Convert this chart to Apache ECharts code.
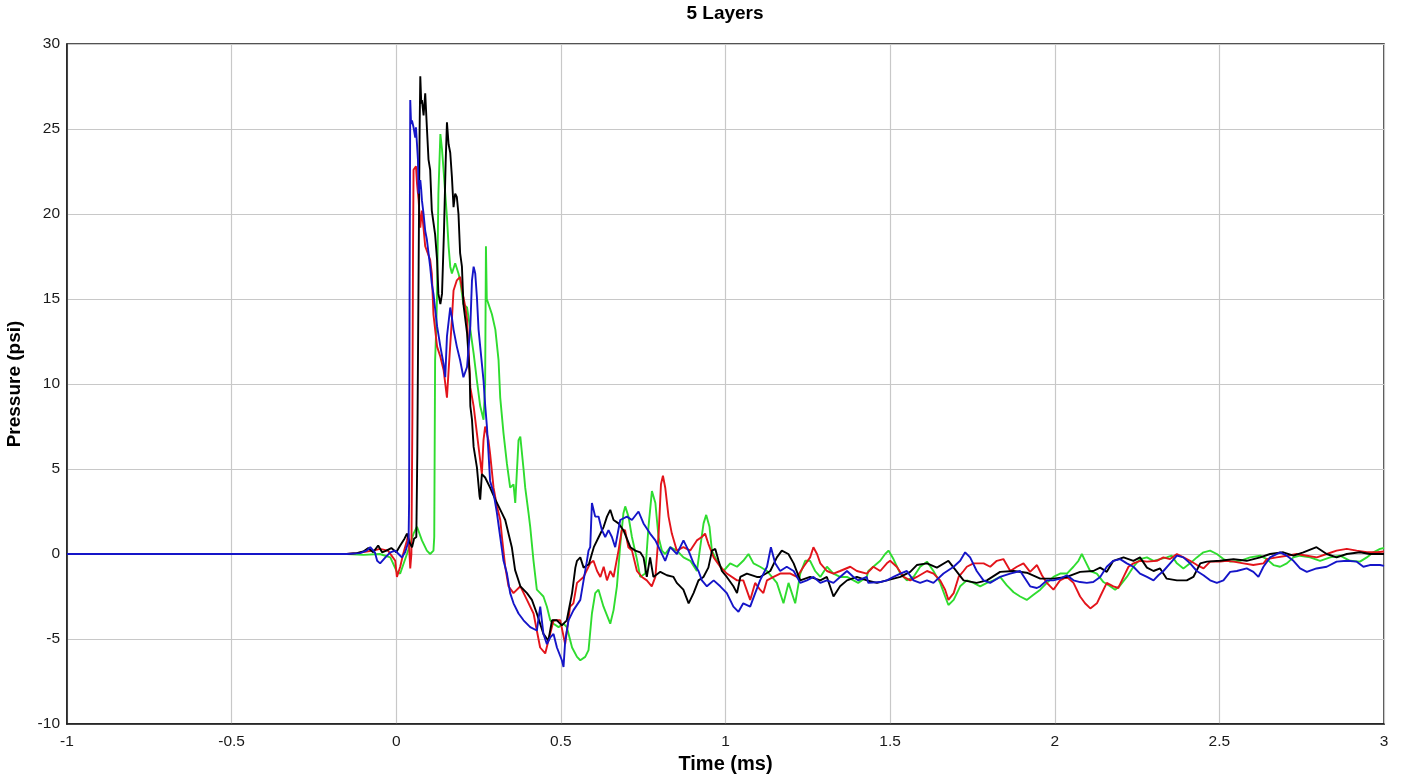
<!DOCTYPE html>
<html>
<head>
<meta charset="utf-8">
<title>5 Layers</title>
<script src="https://cdn.jsdelivr.net/npm/echarts@6/dist/echarts.min.js"></script>
<style>
  html, body { margin: 0; padding: 0; background: #fff; }
  #chart { width: 1402px; height: 783px; }
</style>
</head>
<body>
<div id="chart"></div>
<script>
// pressure traces: [time (ms), pressure (psi)]
var greenPts = [[-1,0],[-0.5,0],[-0.15,0],[-0.1,-0.05],[-0.05,0],[-0.018,-0.2],[0.002,-1.05],[0.012,-1.15],[0.0325,0],[0.0525,1.2],[0.063,1.6],[0.078,0.8],[0.093,0.2],[0.103,0],[0.113,0.2],[0.1154,1],[0.118,11.4],[0.121,13],[0.124,15.3],[0.128,21.2],[0.134,24.7],[0.139,23.8],[0.1436,22.6],[0.1488,21.2],[0.154,19.8],[0.159,18.1],[0.164,16.9],[0.169,16.5],[0.179,17.1],[0.189,16.5],[0.194,16.1],[0.204,14.7],[0.215,14.5],[0.225,13.2],[0.235,11.8],[0.245,10.2],[0.255,8.7],[0.2651,7.9],[0.27,10],[0.2724,18.1],[0.275,15],[0.2803,14.7],[0.2906,14.1],[0.301,13.2],[0.3107,11.4],[0.3158,9.2],[0.3258,7.1],[0.3362,5.3],[0.346,3.9],[0.3562,4.1],[0.3614,3.0],[0.3714,6.7],[0.3768,6.9],[0.3866,5.0],[0.3917,3.9],[0.4018,2.4],[0.4069,1.6],[0.4169,-0.4],[0.427,-2.1],[0.4373,-2.3],[0.447,-2.5],[0.4576,-3.1],[0.4677,-3.9],[0.4777,-4.1],[0.4929,-4.3],[0.508,-4.1],[0.518,-4.3],[0.534,-5.5],[0.549,-6.05],[0.559,-6.25],[0.5739,-6.05],[0.584,-5.65],[0.5943,-3.5],[0.6043,-2.3],[0.6143,-2.1],[0.6295,-3.1],[0.65,-4.1],[0.66,-3.3],[0.6702,-1.9],[0.6802,0.5],[0.69,2.4],[0.6954,2.8],[0.7054,2.2],[0.7158,1.0],[0.7309,-0.3],[0.741,-1.35],[0.7561,-1.15],[0.7661,1.6],[0.7765,3.7],[0.787,3.0],[0.7965,1.0],[0.8068,0.2],[0.8168,0],[0.832,0.4],[0.8524,0.2],[0.8724,-0.2],[0.893,-0.4],[0.9131,-1.0],[0.9232,0.4],[0.9334,1.8],[0.9414,2.3],[0.9514,1.6],[0.9587,0.2],[0.974,-0.4],[0.9939,-1.0],[1.0142,-0.55],[1.035,-0.75],[1.0539,-0.4],[1.0698,0],[1.085,-0.55],[1.105,-0.75],[1.126,-1.0],[1.141,-1.35],[1.156,-1.7],[1.1761,-2.9],[1.1914,-1.7],[1.2117,-2.9],[1.227,-1.15],[1.242,-0.4],[1.257,-0.4],[1.2723,-1.0],[1.288,-1.35],[1.308,-0.75],[1.328,-1.15],[1.348,-1.35],[1.369,-1.35],[1.3887,-1.55],[1.4029,-1.7],[1.429,-1.35],[1.4338,-1.0],[1.47,-0.4],[1.4849,0],[1.495,0.2],[1.5101,-0.3],[1.531,-1.15],[1.5508,-1.55],[1.5709,-1.35],[1.5912,-0.75],[1.612,-0.45],[1.6316,-1.0],[1.652,-1.7],[1.6671,-2.5],[1.677,-3.0],[1.693,-2.7],[1.7127,-1.9],[1.733,-1.55],[1.7531,-1.7],[1.7734,-1.9],[1.794,-1.7],[1.8139,-1.55],[1.834,-1.35],[1.8545,-1.85],[1.875,-2.25],[1.8949,-2.5],[1.915,-2.7],[1.9354,-2.4],[1.956,-2.1],[1.976,-1.7],[1.996,-1.35],[2.0164,-1.15],[2.037,-1.15],[2.0568,-0.75],[2.0719,-0.4],[2.0823,0],[2.0923,-0.4],[2.1075,-1.0],[2.1278,-1.15],[2.1479,-1.65],[2.1682,-1.9],[2.1834,-2.1],[2.1986,-1.85],[2.2189,-1.35],[2.239,-0.75],[2.259,-0.3],[2.28,-0.2],[2.3,-0.4],[2.32,-0.3],[2.34,-0.2],[2.3555,-0.1],[2.371,-0.55],[2.3907,-0.85],[2.4111,-0.55],[2.4315,-0.2],[2.4516,0.1],[2.4719,0.2],[2.4923,0],[2.5123,-0.3],[2.5327,-0.45],[2.563,-0.4],[2.5934,-0.2],[2.624,-0.1],[2.6441,-0.3],[2.6644,-0.65],[2.6844,-0.75],[2.7048,-0.55],[2.725,-0.2],[2.7452,-0.1],[2.7755,-0.2],[2.8059,-0.4],[2.8363,-0.2],[2.8666,-0.1],[2.897,-0.4],[2.927,-0.45],[2.9477,-0.2],[2.9677,0.1],[2.988,0.3],[3,0.35]];

var redPts = [[-1,0],[-0.5,0],[-0.15,0],[-0.12,0.05],[-0.09,0.15],[-0.07,0.2],[-0.05,0.3],[-0.025,0.2],[-0.003,-0.4],[0.002,-1.35],[0.012,-0.75],[0.021,0.0],[0.0325,0.8],[0.037,1.2],[0.0425,-0.85],[0.046,0],[0.049,8],[0.051,18],[0.0525,22.6],[0.06,22.8],[0.063,21.8],[0.068,20.8],[0.073,19.2],[0.078,20.2],[0.088,18.1],[0.103,17.3],[0.108,16.5],[0.113,14.1],[0.124,12.2],[0.134,11.6],[0.144,10.8],[0.154,9.2],[0.159,10.8],[0.169,13.8],[0.174,15.5],[0.184,16.1],[0.189,16.1],[0.194,16.3],[0.204,15.1],[0.21,14.5],[0.215,13.8],[0.22,11.8],[0.225,9.8],[0.235,8.7],[0.245,7.1],[0.255,5.5],[0.26,4.7],[0.265,6.7],[0.27,7.5],[0.28,6.7],[0.285,5.9],[0.2955,3.9],[0.306,2.8],[0.316,2.0],[0.321,1.0],[0.331,-0.75],[0.341,-1.9],[0.356,-2.3],[0.377,-1.9],[0.397,-2.7],[0.417,-3.5],[0.437,-5.5],[0.4525,-5.85],[0.462,-5.1],[0.478,-3.9],[0.498,-3.9],[0.513,-5.3],[0.528,-3.1],[0.538,-2.9],[0.549,-1.7],[0.569,-1.35],[0.589,-0.55],[0.599,-0.4],[0.61,-1.0],[0.62,-1.35],[0.63,-0.75],[0.64,-1.55],[0.65,-1.0],[0.66,-1.35],[0.675,0.2],[0.685,1.4],[0.695,1.4],[0.705,0.4],[0.716,0.2],[0.731,-1.0],[0.746,-1.35],[0.761,-1.55],[0.776,-1.9],[0.787,-1.35],[0.797,1.2],[0.804,4.1],[0.81,4.6],[0.817,3.9],[0.827,2.2],[0.837,1.2],[0.852,0.2],[0.872,0.4],[0.893,0.2],[0.913,0.8],[0.928,1.0],[0.938,1.2],[0.948,0.6],[0.964,-0.2],[0.984,-0.75],[1.004,-1.15],[1.035,-1.55],[1.054,-1.55],[1.075,-2.7],[1.09,-1.7],[1.105,-2.1],[1.115,-2.3],[1.126,-1.55],[1.146,-1.35],[1.166,-1.15],[1.197,-1.15],[1.217,-1.35],[1.237,-0.75],[1.257,-0.2],[1.267,0.4],[1.278,0],[1.288,-0.55],[1.308,-1.0],[1.328,-1.15],[1.348,-1.0],[1.379,-0.75],[1.399,-1.0],[1.429,-1.15],[1.449,-0.75],[1.47,-1.0],[1.49,-0.55],[1.5,-0.4],[1.52,-0.75],[1.541,-1.35],[1.561,-1.55],[1.581,-1.35],[1.612,-1.0],[1.632,-1.15],[1.652,-1.55],[1.667,-2.1],[1.677,-2.7],[1.693,-2.3],[1.708,-1.35],[1.723,-1.0],[1.733,-0.75],[1.753,-0.55],[1.784,-0.55],[1.804,-0.75],[1.824,-0.4],[1.844,-0.3],[1.865,-1.0],[1.885,-0.75],[1.905,-0.55],[1.925,-1.05],[1.946,-0.65],[1.961,-1.25],[1.976,-1.7],[1.996,-2.1],[2.016,-1.55],[2.037,-1.35],[2.057,-1.7],[2.077,-2.5],[2.092,-2.9],[2.108,-3.2],[2.128,-2.9],[2.138,-2.5],[2.158,-1.7],[2.178,-1.9],[2.193,-2.0],[2.209,-1.35],[2.224,-0.75],[2.239,-0.55],[2.259,-0.4],[2.28,-0.45],[2.31,-0.4],[2.33,-0.2],[2.35,-0.3],[2.371,0],[2.391,-0.2],[2.411,-0.4],[2.432,-0.65],[2.452,-0.85],[2.472,-0.45],[2.502,-0.45],[2.523,-0.4],[2.543,-0.45],[2.573,-0.55],[2.603,-0.65],[2.634,-0.55],[2.644,-0.3],[2.674,-0.2],[2.705,-0.1],[2.735,0],[2.766,-0.1],[2.796,-0.2],[2.826,0],[2.856,0.2],[2.887,0.3],[2.917,0.2],[2.948,0.1],[2.978,0.1],[3,0.15]];

var blackPts = [[-1,0],[-0.5,0],[-0.15,0],[-0.12,0.05],[-0.1,0.15],[-0.085,0.35],[-0.07,0.1],[-0.055,0.5],[-0.043,0.1],[-0.03,0.2],[-0.015,0.35],[0.0,0.1],[0.012,0.5],[0.025,0.9],[0.0325,1.2],[0.04,0.7],[0.048,0.4],[0.054,0.9],[0.061,1.0],[0.064,6],[0.068,17],[0.071,25],[0.073,28.1],[0.076,26.5],[0.078,26.7],[0.083,25.8],[0.088,27.1],[0.093,25.1],[0.098,23.2],[0.103,22.6],[0.108,20.2],[0.113,19.5],[0.118,18.8],[0.124,17.3],[0.128,15.3],[0.134,14.7],[0.139,15.3],[0.145,19],[0.15,23],[0.154,25.4],[0.159,24.1],[0.164,23.6],[0.169,22.2],[0.174,20.4],[0.179,21.2],[0.184,21.0],[0.189,20.0],[0.194,17.7],[0.1995,16.9],[0.204,14.7],[0.215,13.0],[0.223,10.6],[0.225,8.7],[0.23,7.9],[0.235,6.3],[0.245,5.1],[0.253,3.4],[0.255,3.2],[0.26,4.7],[0.27,4.5],[0.285,3.9],[0.301,3.2],[0.321,2.4],[0.331,2.0],[0.351,0.4],[0.361,-0.95],[0.377,-1.9],[0.397,-2.3],[0.412,-2.7],[0.427,-3.5],[0.447,-4.7],[0.462,-5.1],[0.473,-3.9],[0.488,-3.9],[0.503,-4.2],[0.518,-3.9],[0.534,-2.3],[0.544,-0.8],[0.549,-0.4],[0.559,-0.2],[0.569,-0.8],[0.585,-0.6],[0.6,0.4],[0.615,1.0],[0.63,1.6],[0.64,2.2],[0.65,2.6],[0.66,2.0],[0.675,1.8],[0.69,1.4],[0.711,0.4],[0.726,0.2],[0.741,0.1],[0.751,-0.2],[0.761,-1.35],[0.771,-0.2],[0.781,-1.35],[0.802,-1.05],[0.822,-1.25],[0.842,-1.35],[0.852,-1.7],[0.872,-2.1],[0.888,-2.9],[0.903,-2.3],[0.918,-1.55],[0.933,-1.35],[0.948,-0.8],[0.959,0.2],[0.969,0.3],[0.979,-0.4],[0.989,-1.0],[1.004,-1.35],[1.024,-1.9],[1.035,-2.3],[1.045,-1.35],[1.065,-1.15],[1.095,-1.35],[1.105,-1.35],[1.136,-1.0],[1.156,-0.2],[1.171,0.2],[1.191,0],[1.207,-0.55],[1.227,-1.55],[1.257,-1.35],[1.288,-1.55],[1.308,-1.35],[1.328,-2.5],[1.348,-1.9],[1.369,-1.55],[1.399,-1.35],[1.429,-1.55],[1.46,-1.7],[1.49,-1.55],[1.531,-1.35],[1.561,-1.05],[1.581,-0.65],[1.612,-0.55],[1.642,-0.8],[1.677,-0.4],[1.693,-0.8],[1.723,-1.55],[1.763,-1.7],[1.794,-1.55],[1.834,-1.05],[1.875,-1.0],[1.915,-1.1],[1.956,-1.45],[1.996,-1.45],[2.037,-1.35],[2.077,-1.05],[2.117,-1.0],[2.138,-0.8],[2.158,-1.05],[2.178,-0.4],[2.209,-0.2],[2.239,-0.4],[2.259,-0.2],[2.28,-0.8],[2.3,-1.0],[2.32,-0.85],[2.34,-1.45],[2.371,-1.55],[2.401,-1.55],[2.421,-1.35],[2.442,-0.55],[2.462,-0.45],[2.502,-0.4],[2.543,-0.3],[2.583,-0.4],[2.624,-0.2],[2.654,0],[2.694,0.1],[2.725,-0.1],[2.755,0.1],[2.795,0.4],[2.826,0],[2.856,-0.2],[2.887,0],[2.927,0.1],[2.957,0],[3,0]];

var bluePts = [[-1,0],[-0.5,0],[-0.15,0],[-0.11,0.05],[-0.09,0.2],[-0.079,0.4],[-0.065,0.1],[-0.058,-0.4],[-0.049,-0.55],[-0.033,-0.2],[-0.018,0.1],[-0.003,0.2],[0.007,0],[0.017,-0.2],[0.027,0.1],[0.035,0.6],[0.0374,0.8],[0.039,3],[0.0405,15],[0.0425,26.7],[0.045,25.3],[0.0477,25.5],[0.0525,25.1],[0.0577,24.5],[0.0598,25.1],[0.063,24.1],[0.0659,23.2],[0.0677,21.2],[0.073,22.0],[0.0759,21.4],[0.078,20.8],[0.083,20.0],[0.088,19.0],[0.093,18.5],[0.098,17.7],[0.103,16.9],[0.108,15.9],[0.113,15.3],[0.124,13.4],[0.134,12.2],[0.1436,11.2],[0.1488,10.4],[0.154,12.8],[0.164,14.5],[0.169,13.9],[0.174,13.2],[0.184,12.2],[0.194,11.4],[0.204,10.4],[0.215,11.0],[0.225,13.4],[0.23,16.1],[0.235,16.9],[0.2399,16.5],[0.245,15.1],[0.25,13.2],[0.255,12.2],[0.2651,10.2],[0.2703,8.7],[0.2754,7.5],[0.2803,5.9],[0.285,4.3],[0.2955,3.6],[0.3058,2.4],[0.3158,1.0],[0.3258,-0.4],[0.3362,-1.15],[0.346,-2.3],[0.3562,-2.9],[0.3714,-3.5],[0.3866,-3.9],[0.4069,-4.3],[0.427,-4.5],[0.4373,-3.1],[0.447,-4.7],[0.4576,-5.3],[0.468,-4.9],[0.4777,-4.7],[0.488,-5.5],[0.503,-6.25],[0.508,-6.65],[0.5132,-5.1],[0.5232,-3.9],[0.5384,-3.3],[0.559,-2.7],[0.569,-1.55],[0.5791,-0.4],[0.584,0.2],[0.5891,0.4],[0.5943,3.0],[0.5992,3.0],[0.6043,2.2],[0.6143,2.2],[0.6247,1.4],[0.6347,1.0],[0.6447,1.4],[0.655,1.0],[0.665,0.4],[0.6802,2.0],[0.7006,2.2],[0.7158,2.0],[0.7358,2.5],[0.751,1.8],[0.771,1.2],[0.787,0.8],[0.802,0.2],[0.8168,-0.4],[0.832,0.4],[0.8524,0],[0.8724,0.8],[0.8876,0.2],[0.903,-0.55],[0.918,-1.0],[0.9283,-1.55],[0.9435,-1.9],[0.964,-1.55],[0.984,-1.9],[1.004,-2.3],[1.024,-3.1],[1.0394,-3.4],[1.0539,-2.9],[1.075,-3.1],[1.0902,-2.3],[1.105,-1.55],[1.126,-0.75],[1.1379,0.4],[1.1509,-0.55],[1.166,-1.0],[1.186,-0.75],[1.207,-1.0],[1.227,-1.7],[1.2472,-1.55],[1.2672,-1.35],[1.288,-1.7],[1.308,-1.55],[1.328,-1.7],[1.348,-1.35],[1.369,-1.0],[1.3887,-1.35],[1.4029,-1.55],[1.429,-1.35],[1.4338,-1.7],[1.47,-1.65],[1.49,-1.55],[1.5101,-1.35],[1.531,-1.15],[1.5508,-1.0],[1.5709,-1.55],[1.5912,-1.7],[1.612,-1.55],[1.6316,-1.7],[1.6621,-1.15],[1.693,-0.75],[1.7127,-0.4],[1.7279,0.1],[1.743,-0.2],[1.763,-1.0],[1.7835,-1.55],[1.8038,-1.7],[1.834,-1.35],[1.8645,-1.15],[1.8949,-1.0],[1.9253,-1.9],[1.9456,-2.0],[1.956,-1.9],[1.976,-1.55],[1.996,-1.55],[2.0164,-1.45],[2.037,-1.25],[2.0568,-1.55],[2.077,-1.65],[2.0974,-1.7],[2.117,-1.65],[2.138,-1.35],[2.158,-0.75],[2.178,-0.4],[2.1986,-0.3],[2.2189,-0.55],[2.239,-0.75],[2.259,-1.15],[2.28,-1.35],[2.3,-1.55],[2.3148,-1.25],[2.33,-1.0],[2.3504,-0.55],[2.371,-0.1],[2.3907,-0.2],[2.4111,-0.55],[2.4315,-1.0],[2.4516,-1.25],[2.4719,-1.55],[2.4923,-1.7],[2.5123,-1.55],[2.5327,-1.05],[2.553,-1.0],[2.583,-0.85],[2.6034,-1.05],[2.6186,-1.35],[2.6338,-0.75],[2.654,-0.2],[2.6844,0.1],[2.7048,-0.1],[2.725,-0.4],[2.7452,-0.85],[2.7656,-1.05],[2.795,-0.85],[2.826,-0.75],[2.856,-0.45],[2.887,-0.4],[2.9173,-0.45],[2.9374,-0.75],[2.957,-0.65],[2.988,-0.65],[3,-0.7]];

var traceNames = ['Green', 'Red', 'Black', 'Blue'];
var traceColors = ['#2fdc2f', '#e3141b', '#000000', '#1515c8'];
var traces = [greenPts, redPts, blackPts, bluePts];

var chart = echarts.init(document.getElementById('chart'), null, { renderer: 'canvas' });
var font = '"Liberation Sans", Arial, sans-serif';

var option = {
  backgroundColor: '#ffffff',
  animation: false,
  title: {
    text: '5 Layers',
    left: 725,
    top: 4,
    padding: 0,
    textAlign: 'center',
    textStyle: { fontFamily: font, fontSize: 19, fontWeight: 'bold', color: '#000' }
  },
  grid: {
    left: 67, right: 18, top: 44, bottom: 59,
    outerBoundsMode: 'none',
    containLabel: false,
    show: true, borderColor: '#1a1a1a', borderWidth: 1.5, backgroundColor: '#fff'
  },
  xAxis: {
    type: 'value', min: -1, max: 3, interval: 0.5,
    name: 'Time (ms)', nameLocation: 'middle', nameGap: 30,
    nameTextStyle: { fontFamily: font, fontSize: 20, fontWeight: 'bold', color: '#000' },
    axisLine: { show: true, onZero: false, lineStyle: { color: '#1a1a1a', width: 1.5 } },
    axisTick: { show: false },
    axisLabel: { fontFamily: font, fontSize: 15.5, color: '#1a1a1a', margin: 10 },
    splitLine: { show: true, lineStyle: { color: '#c8c8c8', width: 1.2 } }
  },
  yAxis: {
    type: 'value', min: -10, max: 30, interval: 5,
    name: 'Pressure (psi)', nameLocation: 'middle', nameGap: 43,
    nameTextStyle: { fontFamily: font, fontSize: 19, fontWeight: 'bold', color: '#000' },
    axisLine: { show: true, onZero: false, lineStyle: { color: '#1a1a1a', width: 1.5 } },
    axisTick: { show: false },
    axisLabel: { fontFamily: font, fontSize: 15.5, color: '#1a1a1a', margin: 7 },
    splitLine: { show: true, lineStyle: { color: '#c8c8c8', width: 1.2 } }
  },
  series: traces.map(function (pts, i) {
    return {
      name: traceNames[i],
      type: 'line',
      data: pts,
      showSymbol: false,
      symbol: 'none',
      clip: true,
      lineStyle: { color: traceColors[i], width: 1.9 },
      z: 2 + i
    };
  })
};

chart.setOption(option);
</script>
</body>
</html>
